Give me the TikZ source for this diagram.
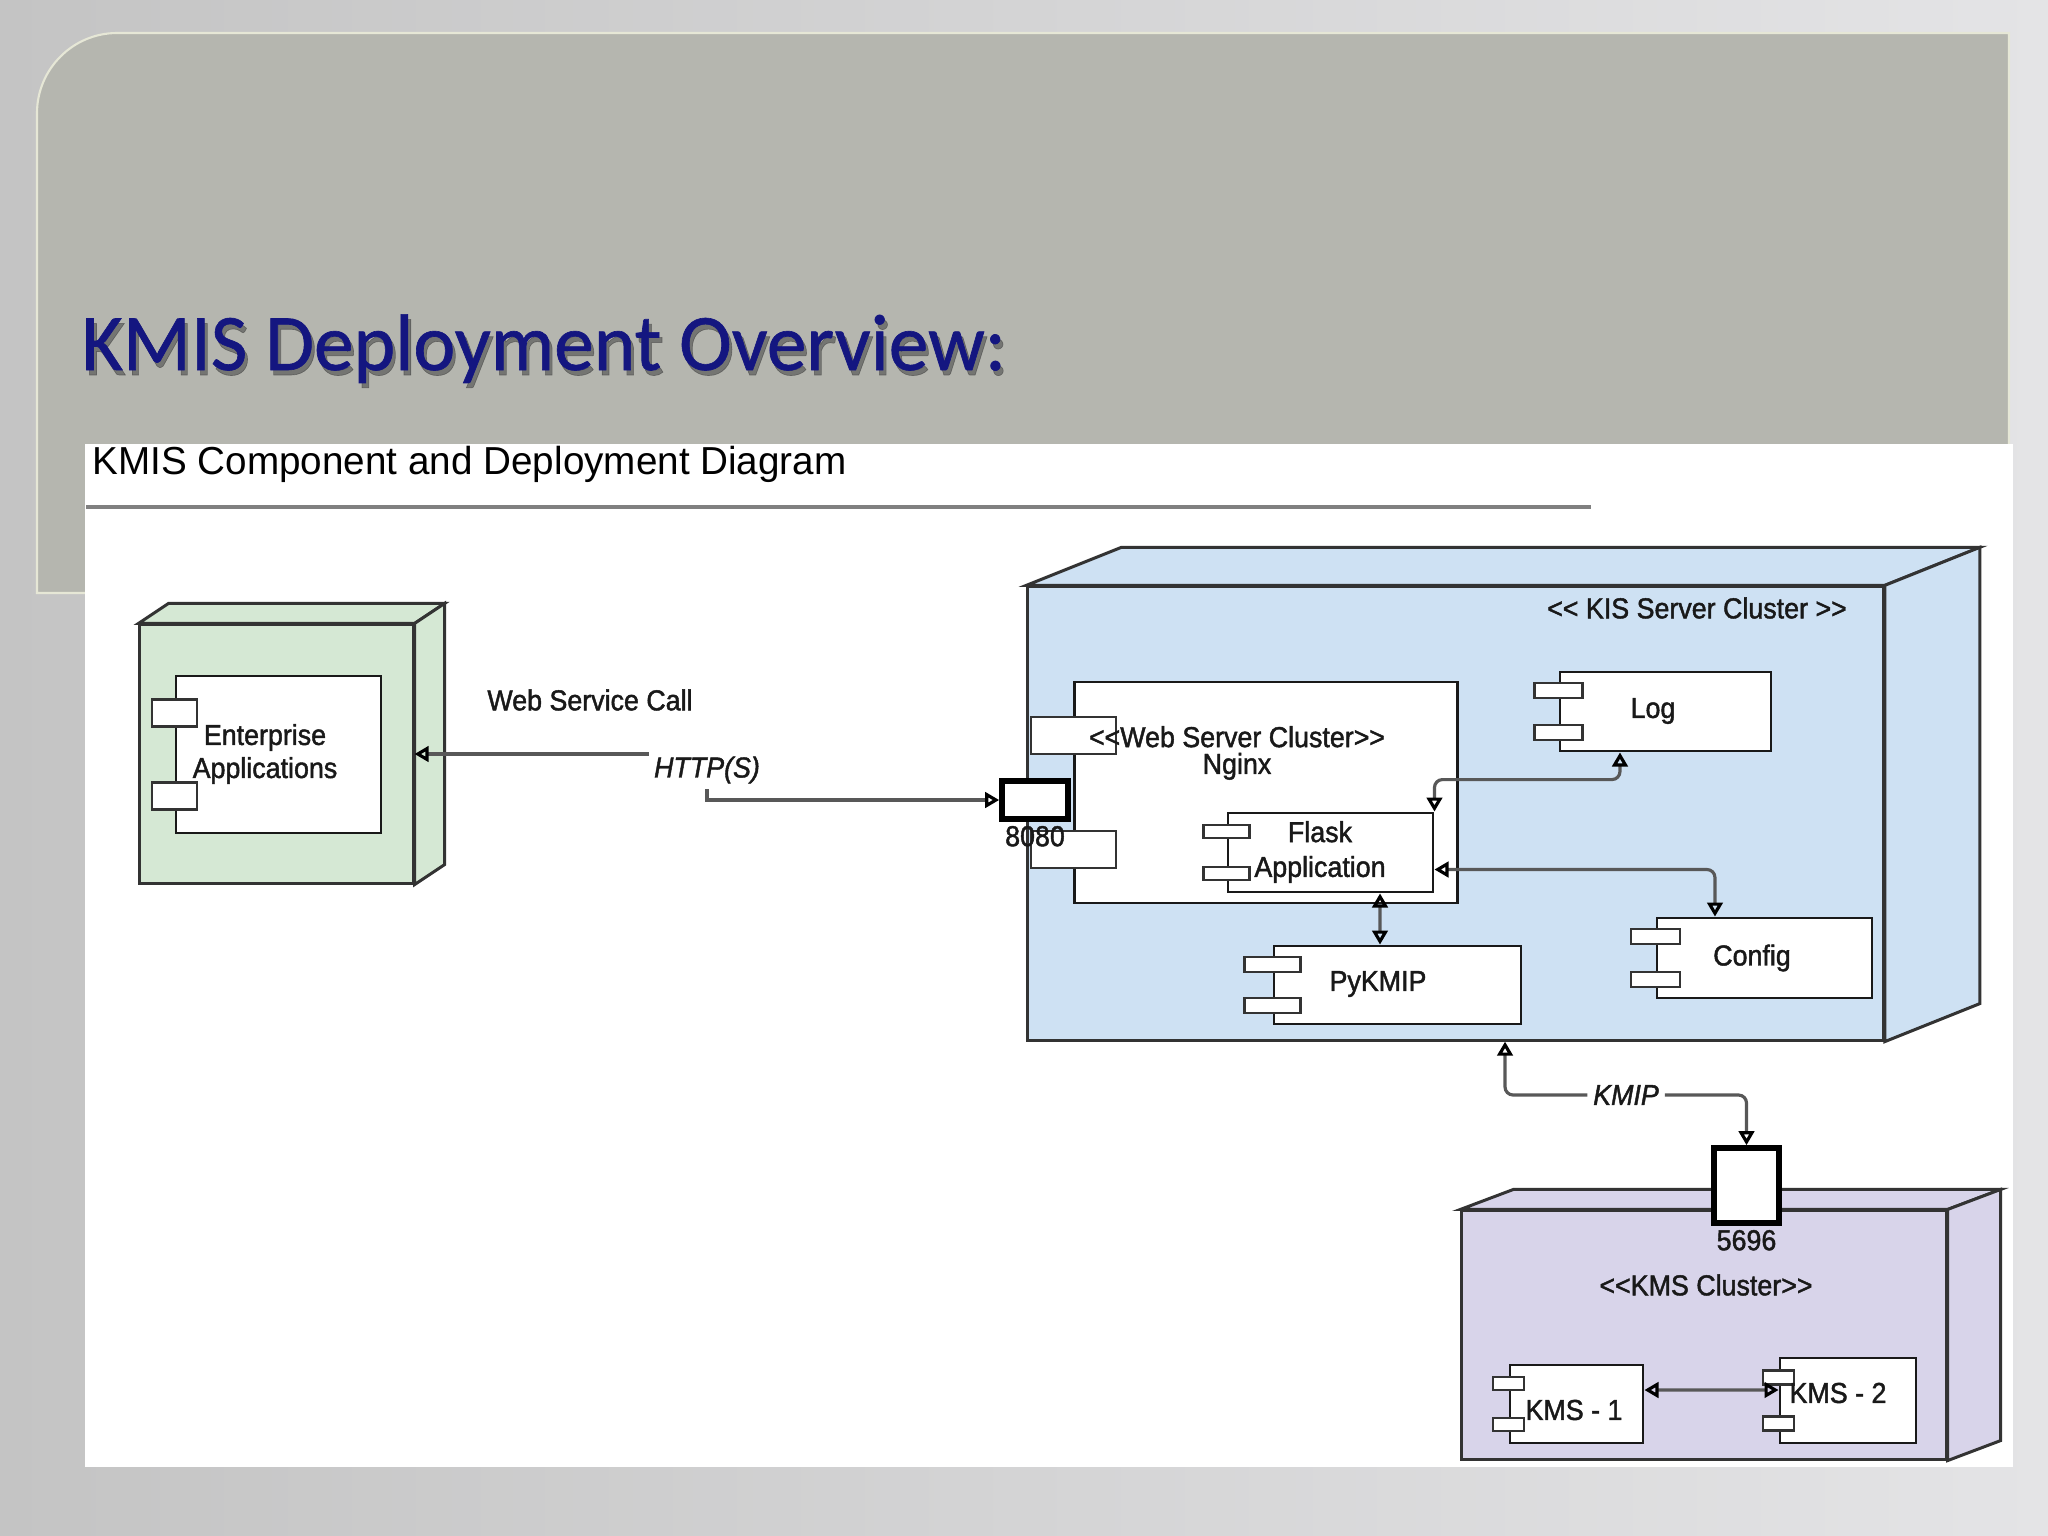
\documentclass[tikz,border=0pt]{standalone}
\usepackage{fontspec}
\setmainfont{Liberation Sans}
\newfontfamily\headfamily[FakeStretch=0.99,FakeBold=0.8]{Carlito}
\newfontfamily\subfamily[FakeStretch=0.99]{Liberation Sans}
\newfontfamily\diagfamily[FakeStretch=0.93,FakeBold=1.5]{Liberation Sans}
\usetikzlibrary{arrows.meta,calc}

\definecolor{bgleft}{RGB}{196,196,196}
\definecolor{bgright}{RGB}{228,228,230}
\definecolor{panelgray}{RGB}{181,182,175}
\definecolor{panelrim}{RGB}{230,231,214}
\definecolor{titleblue}{RGB}{20,22,128}
\definecolor{entgreen}{RGB}{213,232,212}
\definecolor{kisblue}{RGB}{206,225,243}
\definecolor{kmspurple}{RGB}{216,212,234}
\definecolor{wiregray}{RGB}{88,88,88}

\newcommand{\dfont}{\diagfamily\fontsize{8.2}{9.6}\selectfont}

% top and side face of a deployment box: node, dx, dy, fill
\newcommand{\cubeside}[4]{%
  \filldraw[box3d, fill=#4] (#1.north west) -- ++(#2,-#3) -- ($(#1.north east)+(#2,-#3)$) -- (#1.north east) -- cycle;
  \filldraw[box3d, fill=#4] (#1.north east) -- ++(#2,-#3) -- ($(#1.south east)+(#2,-#3)$) -- (#1.south east) -- cycle;
}
% the two small tabs of a component: node, tab width, tab height, offset
\newcommand{\comptabs}[4]{%
  \draw[comptab] ($(#1.north west)+(-#2/2,#4-#3/2)$) rectangle ++(#2,#3);
  \draw[comptab] ($(#1.south west)+(-#2/2,-#4-#3/2)$) rectangle ++(#2,#3);
}

\tikzset{opentri/.tip={Triangle[open,length=4pt,width=4.4pt,color=black]}}

\begin{document}
\begin{tikzpicture}[x=0.01cm, y=-0.01cm,
    box3d/.style={draw=black!80, line width=0.85pt},
    comp/.style={draw=black!90, fill=white, line width=0.8pt, inner sep=0pt},
    comptab/.style={draw=black!80, fill=white, line width=0.75pt},
    port/.style={draw=black, fill=white, line width=1.6pt, inner sep=0pt},
    txt/.style={font=\dfont, text=black!90, align=center, inner sep=1.5pt},
    wire/.style={draw=wiregray, line width=0.9pt, rounded corners=0.08cm},
    biwire/.style={wire, opentri-opentri},
    wirelbl/.style={txt, fill=white, font=\dfont\itshape}]
    \useasboundingbox (0,0) rectangle (2048,1536);

    % slide
    \fill[left color=bgleft, right color=bgright] (0,0) rectangle (2048,1536);
    \filldraw[fill=panelgray, draw=panelrim, line width=0.6pt] (37,593) -- (37,113) .. controls (37,69) and (73,33) .. (117,33) -- (2009,33) -- (2009,593) -- cycle;
    \node[anchor=base west, inner sep=0pt, font=\headfamily\fontsize{22.8}{27}\selectfont, text=black!75, opacity=.55] (titleshade) at (84,375) {KMIS Deployment Overview:};
    \node[anchor=base west, inner sep=0pt, font=\headfamily\fontsize{22.8}{27}\selectfont, text=titleblue] (title) at (81,370) {KMIS Deployment Overview:};
    \fill[white] (85,444) rectangle (2013,1467);
    \node[anchor=base west, inner sep=0pt, font=\subfamily\fontsize{11.1}{13}\selectfont] (subtitle) at (92,474) {KMIS Component and Deployment Diagram};
    \draw[black!50, line width=1.1pt] (86,507) -- (1591,507);

    % deployment boxes
    \node[box3d, fill=entgreen, minimum width=2.73cm, minimum height=2.58cm] (entnode) at (276.5,754) {};
    \cubeside{entnode}{30}{20}{entgreen}

    \node[box3d, fill=kisblue, minimum width=8.55cm, minimum height=4.53cm] (kis) at (1455.5,813.5) {};
    \cubeside{kis}{95}{38}{kisblue}

    \node[box3d, fill=kmspurple, minimum width=4.84cm, minimum height=2.48cm] (kms) at (1704,1335) {};
    \cubeside{kms}{53}{20}{kmspurple}

    % components
    \node[comp, minimum width=2.05cm, minimum height=1.57cm] (entapp) at (278.5,754.5) {};
    \comptabs{entapp}{45}{27}{38.5}
    \node[txt, font=\dfont\fontsize{8.2}{9.4}\selectfont] (entapptxt) at (265,754) {Enterprise\\Applications};

    \node[comp, minimum width=3.82cm, minimum height=2.21cm] (nginx) at (1266,792.5) {};
    \comptabs{nginx}{85}{37}{55}
    \node[txt, font=\dfont\fontsize{8.2}{7.6}\selectfont] (nginxtxt) at (1237,753) {<<Web Server Cluster>>\\Nginx};

    \node[comp, minimum width=2.05cm, minimum height=0.79cm] (flask) at (1330.5,852.5) {};
    \comptabs{flask}{46}{13}{20}
    \node[txt, font=\dfont\fontsize{8.2}{9.9}\selectfont] (flasktxt) at (1320,852) {Flask\\Application};

    \node[comp, minimum width=2.11cm, minimum height=0.79cm] (log) at (1665.5,711.5) {};
    \comptabs{log}{48}{15}{20}
    \node[txt] (logtxt) at (1653,711) {Log};

    \node[comp, minimum width=2.15cm, minimum height=0.80cm] (config) at (1764.5,958) {};
    \comptabs{config}{49}{15}{20}
    \node[txt] (configtxt) at (1752,958) {Config};

    \node[comp, minimum width=2.47cm, minimum height=0.78cm] (pykmip) at (1397.5,985) {};
    \comptabs{pykmip}{56}{15}{20}
    \node[txt] (pykmiptxt) at (1378,984) {PyKMIP};

    \node[comp, minimum width=1.33cm, minimum height=0.78cm] (kms1) at (1576.5,1404) {};
    \comptabs{kms1}{31}{13}{20}

    \node[comp, minimum width=1.36cm, minimum height=0.85cm] (kms2) at (1848,1400.5) {};
    \comptabs{kms2}{31}{14}{21}

    % ports
    \node[port, minimum width=0.66cm, minimum height=0.38cm, label={[txt, inner sep=1pt]below:8080}] (port8080) at (1035,800) {};
    \node[port, minimum width=0.65cm, minimum height=0.75cm, label={[txt, inner sep=1pt]below:5696}] (port5696) at (1746.5,1185.5) {};

    % cluster captions
    \node[txt] (kistxt) at (1697,608) {<< KIS Server Cluster >>};
    \node[txt] (kmstxt) at (1706,1285) {<<KMS Cluster>>};
    \node[txt] (wsctxt) at (590,700) {Web Service Call};

    % connectors
    \coordinate (httpbend) at (707,770);
    \draw[biwire, sharp corners] (entnode.east) -| (httpbend) |- (port8080.west);
    \node[wirelbl] (httptxt) at (httpbend) {HTTP(S)};

    \draw[biwire] (flask.north east) -- ++(0,-32) -| ([xshift=-0.455cm]log.south);
    \draw[biwire] ([yshift=-0.17cm]flask.east) -| ([xshift=-0.495cm]config.north);
    \draw[biwire] ([xshift=0.495cm]flask.south) -- ([xshift=-0.175cm]pykmip.north);

    \node[wirelbl] (kmiptxt) at (1626,1095) {KMIP};
    \draw[wire, opentri-] ([xshift=0.495cm]kis.south) |- (kmiptxt.west);
    \draw[wire, -opentri] (kmiptxt.east) -| (port5696.north);

    \draw[biwire] ([yshift=0.14cm]kms1.east) -- ([yshift=0.105cm]kms2.west);
    \node[txt] (kms1txt) at (1574,1410) {KMS - 1};
    \node[txt] (kms2txt) at (1838,1393) {KMS - 2};
\end{tikzpicture}
\end{document}
